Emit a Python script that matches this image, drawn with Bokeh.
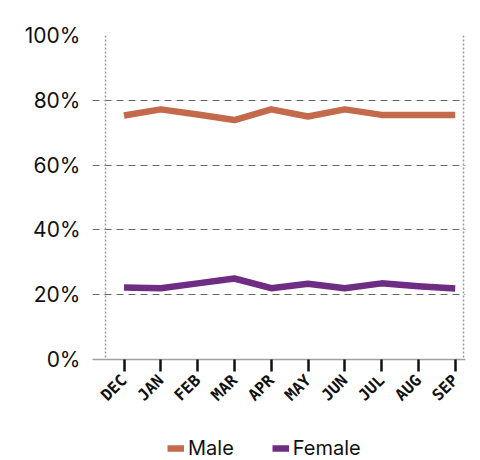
from bokeh.plotting import figure
from bokeh.layouts import column
from bokeh.models import FixedTicker, Span, Legend, LegendItem, CustomJSTickFormatter
from bokeh.embed import file_html
from bokeh.resources import INLINE

months = ["DEC", "JAN", "FEB", "MAR", "APR", "MAY", "JUN", "JUL", "AUG", "SEP"]
male = [75.3, 77.2, 75.6, 73.9, 77.2, 75.0, 77.2, 75.5, 75.5, 75.5]
female = [22.2, 22.0, 23.5, 25.0, 22.0, 23.4, 22.0, 23.5, 22.6, 21.9]
y_ticks = [0, 20, 40, 60, 80, 100]

MALE_C = "#C46A4C"
FEMALE_C = "#6E2C83"

xs = list(range(len(months)))
sp = 36.8
x0 = 123.5
left_px, right_px = 92, 465
x_start = (left_px - x0) / sp
x_end = (right_px - x0) / sp

p = figure(width=480, height=420, output_backend="svg", toolbar_location=None,
           x_range=(x_start, x_end), y_range=(0, 100),
           min_border_left=92, min_border_right=15, min_border_top=35, min_border_bottom=61)
p.outline_line_color = None
p.background_fill_color = "white"

rm = p.line(xs, male, line_color=MALE_C, line_width=6.5, line_join="round")
rf = p.line(xs, female, line_color=FEMALE_C, line_width=6.5, line_join="round")

# grid
p.xgrid.grid_line_color = None
p.ygrid.ticker = FixedTicker(ticks=y_ticks)
p.ygrid.grid_line_color = "#666666"
p.ygrid.grid_line_dash = "7 5"
p.ygrid.grid_line_width = 1

for xv in [(105 - x0) / sp, (463 - x0) / sp]:
    p.add_layout(Span(location=xv, dimension="height", line_color="#9a9a9a",
                      line_dash="2 2", line_width=1.5))

# x axis
xa = p.xaxis[0]
xa.ticker = FixedTicker(ticks=xs)
xa.major_label_overrides = {i: m for i, m in enumerate(months)}
xa.major_label_orientation = 0.785
xa.major_label_text_font = "DejaVu Sans Mono"
xa.major_label_text_font_style = "bold"
xa.major_label_text_font_size = "16px"
xa.major_label_text_color = "#111111"
xa.axis_line_color = "#a0a0a0"
xa.axis_line_width = 1.5
xa.major_tick_line_color = "#111111"
xa.major_tick_line_width = 2.5
xa.major_tick_in = 0
xa.major_tick_out = 12
xa.minor_tick_line_color = None
xa.major_label_standoff = 6

# y axis
ya = p.yaxis[0]
ya.ticker = FixedTicker(ticks=y_ticks)
ya.formatter = CustomJSTickFormatter(code="return tick + '%';")
ya.axis_line_color = None
ya.major_tick_line_color = None
ya.major_tick_in = 0
ya.major_tick_out = 0
ya.minor_tick_line_color = None
ya.major_label_text_font = "Inter"
ya.major_label_text_font_size = "21px"
ya.major_label_text_color = "#111111"
ya.major_label_standoff = 12

# legend strip (series drawn off-view, only their legend entries show)
lg = figure(width=480, height=40, output_backend="svg", toolbar_location=None,
            x_range=(0, 1), y_range=(1000, 1001), x_axis_type=None, y_axis_type=None,
            min_border=0)
lg.outline_line_color = None
lg.xgrid.visible = False
lg.ygrid.visible = False
lm = lg.line(xs, male, line_color=MALE_C, line_width=6.5)
lf = lg.line(xs, female, line_color=FEMALE_C, line_width=6.5)

legend = Legend(items=[LegendItem(label="Male", renderers=[lm]),
                       LegendItem(label="Female", renderers=[lf])],
                orientation="horizontal", location=(75, 0),
                border_line_color=None, background_fill_alpha=0,
                padding=0, margin=0, spacing=38, label_standoff=4,
                glyph_width=17, glyph_height=20,
                label_text_font="Inter", label_text_font_size="20px",
                label_text_color="#111111")
lg.add_layout(legend, "center")

layout = column(p, lg, spacing=0)
open("out.html", "w").write(file_html(layout, INLINE))
